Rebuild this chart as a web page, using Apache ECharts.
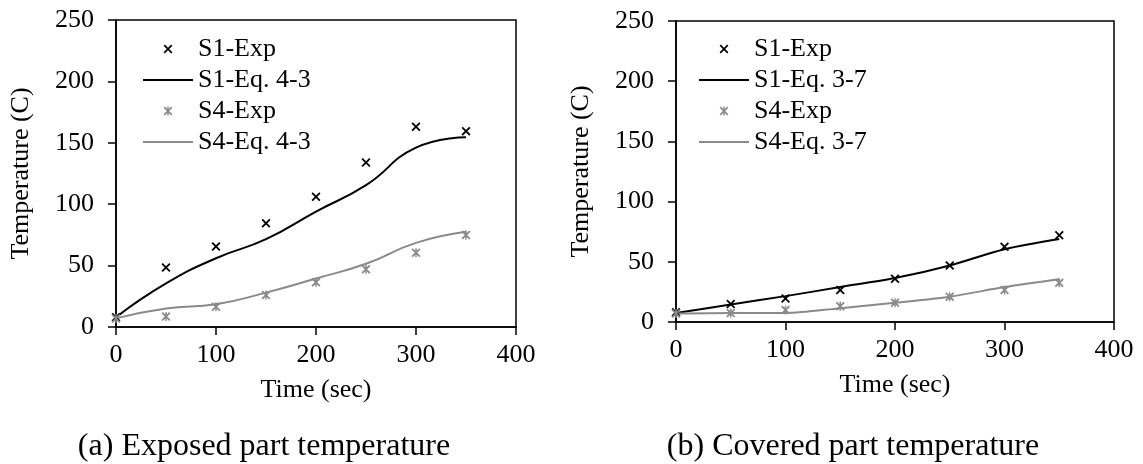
<!DOCTYPE html>
<html>
<head>
<meta charset="utf-8">
<script src="https://cdn.jsdelivr.net/npm/echarts@6/dist/echarts.min.js"></script>
<style>
html, body {margin: 0; padding: 0; background: #fff;}
#main {width: 1143px; height: 464px;}
</style>
</head>
<body>
<div id="main"></div>
<script>
// time steps (sec)
var times = [0, 50, 100, 150, 200, 250, 300, 350];

// (a) exposed part
var s1ExpA = [8, 48.5, 65.5, 84.5, 106, 134, 163, 159.5];
var s1EqA = [8, 35.5, 56, 71.5, 94, 115.5, 146, 154.5];
var s4ExpA = [7, 8.5, 16.5, 26, 36.5, 47, 60.5, 75];
var s4EqA = [7, 15, 18.5, 28, 39.5, 51.5, 68.5, 77.5];

// (b) covered part
var s1ExpB = [8, 15, 19.5, 26.5, 36, 47, 62.5, 72];
var s1EqB = [7.5, 14.5, 21.5, 29, 36.5, 47, 60.5, 69];
var s4ExpB = [7, 7.5, 10, 13, 16, 21, 26.5, 32.5];
var s4EqB = [7, 7.5, 7.5, 11.5, 16, 21, 29, 35.5];

var namesA = ['S1-Exp', 'S1-Eq. 4-3', 'S4-Exp', 'S4-Eq. 4-3'];
var namesB = ['S1-Exp', 'S1-Eq. 3-7', 'S4-Exp', 'S4-Eq. 3-7'];
var captions = ['(a) Exposed part temperature', '(b) Covered part temperature'];

var FONT = 'Liberation Serif';
var GRAY = '#8a8a8a';
// x marker and asterisk marker
var crossMark = 'path://M0,1.4L1.4,0L10,8.6L8.6,10Z M8.6,0L10,1.4L1.4,10L0,8.6Z';
var starMark = 'path://M0,1.4L1.4,0L10,8.6L8.6,10Z M8.6,0L10,1.4L1.4,10L0,8.6Z M4.2,0L5.8,0L5.8,10L4.2,10Z';

function pts(ys) {
    return times.map(function (t, i) { return [t, ys[i]]; });
}

function expSeries(name, ys, color, mark, idx) {
    return {
        name: name, type: 'line', xAxisIndex: idx, yAxisIndex: idx,
        data: pts(ys), symbol: mark, symbolSize: 9,
        lineStyle: {opacity: 0},
        itemStyle: {color: color},
        z: 3
    };
}

function eqSeries(name, ys, color, w, smooth, idx) {
    return {
        name: name, type: 'line', xAxisIndex: idx, yAxisIndex: idx,
        data: pts(ys), symbol: 'none', smooth: smooth,
        lineStyle: {color: color, width: w},
        itemStyle: {color: color, opacity: 0},
        z: 2
    };
}

var txt = {fontFamily: FONT, fontSize: 26, color: '#000'};

function xAx(idx) {
    return {
        type: 'value', gridIndex: idx, min: 0, max: 400, interval: 100,
        name: 'Time (sec)', nameLocation: 'middle', nameGap: 50, nameTextStyle: txt,
        axisLine: {show: true, lineStyle: {color: '#000', width: 1.5}},
        axisTick: {show: true, length: 8, lineStyle: {color: '#000', width: 1.5}},
        axisLabel: {fontFamily: FONT, fontSize: 26, color: '#000', margin: 15},
        splitLine: {show: false}
    };
}

function yAx(idx) {
    return {
        type: 'value', gridIndex: idx, min: 0, max: 250, interval: 50,
        name: 'Temperature (C)', nameLocation: 'middle', nameGap: 82, nameTextStyle: txt,
        axisLine: {show: true, lineStyle: {color: '#000', width: 1.5}},
        axisTick: {show: true, length: 8, lineStyle: {color: '#000', width: 1.5}},
        axisLabel: {fontFamily: FONT, fontSize: 26, color: '#000', margin: 22},
        splitLine: {show: false}
    };
}

function legend(names, left) {
    return {
        orient: 'vertical', left: left, top: 31,
        itemWidth: 50, itemHeight: 11, itemGap: 5,
        selectedMode: false,
        data: names,
        textStyle: {fontFamily: FONT, fontSize: 26, color: '#000', lineHeight: 26}
    };
}

var chart = echarts.init(document.getElementById('main'));
chart.setOption({
    animation: false,
    backgroundColor: '#fff',
    grid: [
        {left: 116, width: 400, top: 20, bottom: 137, show: true, borderColor: '#000', borderWidth: 1.5, outerBoundsMode: 'none'},
        {left: 676, width: 438, top: 21, bottom: 142, show: true, borderColor: '#000', borderWidth: 1.5, outerBoundsMode: 'none'}
    ],
    xAxis: [xAx(0), xAx(1)],
    yAxis: [yAx(0), yAx(1)],
    legend: [legend(namesA, 137), legend(namesB, 693)],
    graphic: [
        {type: 'text', x: 264, y: 447, style: {text: captions[0], fontFamily: FONT, fontSize: 32, fill: '#000', align: 'center', verticalAlign: 'middle'}},
        {type: 'text', x: 853, y: 447, style: {text: captions[1], fontFamily: FONT, fontSize: 32, fill: '#000', align: 'center', verticalAlign: 'middle'}}
    ],
    series: [
        eqSeries(namesA[1], s1EqA, '#000', 2, 0.5, 0),
        eqSeries(namesA[3], s4EqA, GRAY, 2, 0.5, 0),
        expSeries(namesA[0], s1ExpA, '#000', crossMark, 0),
        expSeries(namesA[2], s4ExpA, GRAY, starMark, 0),
        eqSeries(namesB[1], s1EqB, '#000', 2, 0.3, 1),
        eqSeries(namesB[3], s4EqB, GRAY, 2, 0.3, 1),
        expSeries(namesB[0], s1ExpB, '#000', crossMark, 1),
        expSeries(namesB[2], s4ExpB, GRAY, starMark, 1)
    ]
});
</script>
</body>
</html>
